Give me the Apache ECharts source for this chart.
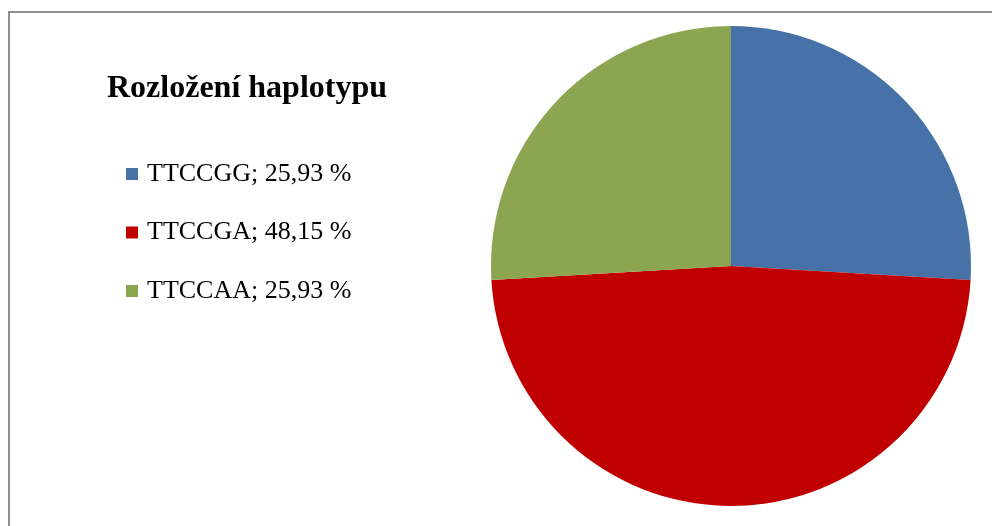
<!DOCTYPE html>
<html>
<head>
<meta charset="utf-8">
<style>
  html, body { margin: 0; padding: 0; background: #ffffff; }
  #chart { width: 992px; height: 526px; }
</style>
<script src="https://cdn.jsdelivr.net/npm/echarts@6/dist/echarts.min.js"></script>
</head>
<body>
<div id="chart"></div>
<script>
// Haplotype distribution (share in percent)
const haplotypes = ['TTCCGG', 'TTCCGA', 'TTCCAA'];
const shares = [25.93, 48.15, 25.93];
const colors = ['#4672A8', '#C00000', '#8BA550'];
const chartTitle = 'Rozložení haplotypu';

const pieData = haplotypes.map((name, i) => ({
  name: name,
  value: shares[i],
  itemStyle: { color: colors[i] }
}));

const fmt = v => v.toFixed(2).replace('.', ',');

const chart = echarts.init(document.getElementById('chart'), null, { renderer: 'canvas' });
chart.setOption({
  backgroundColor: '#ffffff',
  animation: false,
  graphic: [{
    type: 'rect',
    shape: { x: 9, y: 12, width: 1000, height: 600 },
    style: { fill: 'none', stroke: '#8f8f8f', lineWidth: 2 },
    silent: true,
    z: 0
  }],
  title: {
    text: chartTitle,
    left: 102,
    top: 68,
    textStyle: {
      fontFamily: 'Liberation Serif',
      fontSize: 32,
      fontWeight: 'bold',
      color: '#000000'
    }
  },
  legend: {
    orient: 'vertical',
    left: 121,
    top: 154,
    icon: 'rect',
    itemWidth: 12,
    itemHeight: 12,
    itemGap: 28.5,
    selectedMode: false,
    formatter: name => {
      const i = haplotypes.indexOf(name);
      return name + '; ' + fmt(shares[i]) + ' %';
    },
    textStyle: {
      fontFamily: 'Liberation Serif',
      fontSize: 26,
      lineHeight: 30,
      color: '#000000',
      padding: [0, 0, 0, 4]
    }
  },
  series: [{
    type: 'pie',
    center: [731, 266],
    radius: 240,
    startAngle: 90,
    clockwise: true,
    label: { show: false },
    labelLine: { show: false },
    itemStyle: { borderWidth: 0 },
    emphasis: { disabled: true },
    data: pieData
  }]
});
</script>
</body>
</html>
